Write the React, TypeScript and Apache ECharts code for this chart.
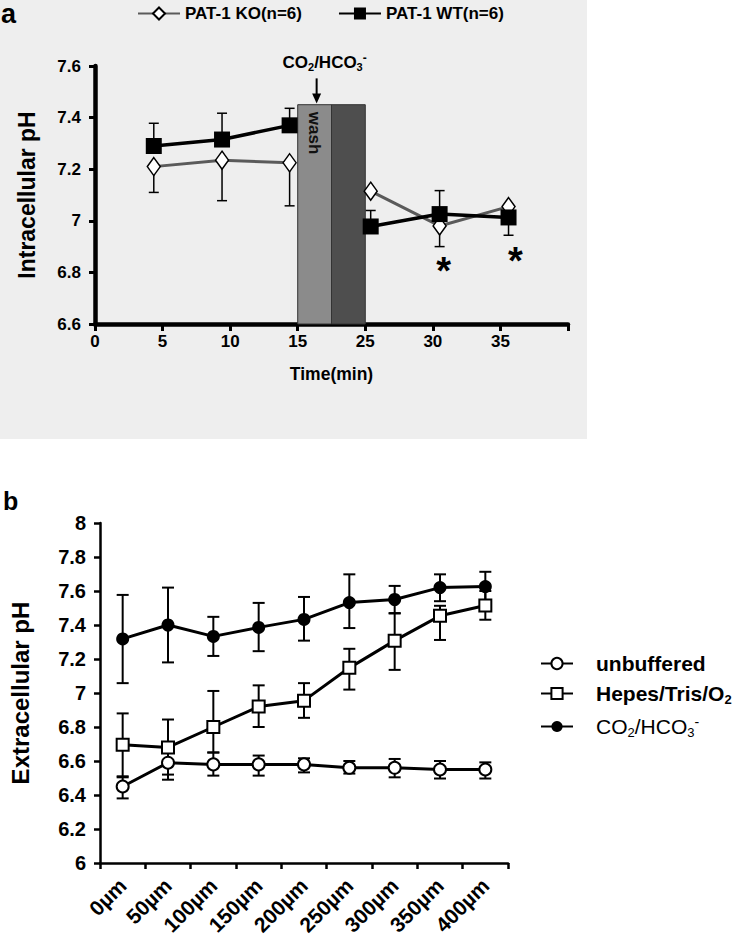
import React, { useEffect, useRef } from 'react';
import * as echarts from 'echarts';

const FONT = "'Liberation Sans', Arial, Helvetica, sans-serif";

// ---------------- Panel a data ----------------
const koName = 'PAT-1 KO(n=6)';
const wtName = 'PAT-1 WT(n=6)';
// time (min) on the displayed, broken time scale
const timeA = [4.35, 9.4, 14.4, 25.4, 30.5, 35.6];
const koPH = [7.21, 7.235, 7.225, 7.115, 6.98, 7.055];
const koErrEnd = [7.11, 7.078, 7.058, null, 6.9, null];
const wtPH = [7.29, 7.315, 7.37, 6.978, 7.026, 7.013];
const wtErrEnd = [7.378, 7.417, 7.436, 7.04, 7.117, 6.944];
const xTickLabelsA = ['0', '5', '10', '15', '25', '30', '35', ''];
const washBands = [[15, 20], [20, 25]]; // minutes
const washTop = 7.45;
const starTimes = [30.8, 36.1];
const starPH = [6.84, 6.88];
const arrowTime = 17.8;
const arrowPH = [7.552, 7.455];
const co2LabelPH = 7.614;

// ---------------- Panel b data ----------------
const distLabels = ['0µm', '50µm', '100µm', '150µm', '200µm', '250µm', '300µm', '350µm', '400µm'];
const unbufName = 'unbuffered';
const hepesName = 'Hepes/Tris/O2';
const co2Name = 'CO2/HCO3-';
const unbuf = [6.45, 6.59, 6.58, 6.58, 6.58, 6.56, 6.56, 6.55, 6.55];
const unbufLow = [6.38, 6.49, 6.514, 6.514, 6.533, 6.526, 6.504, 6.497, 6.497];
const unbufHigh = [6.51, 6.71, 6.65, 6.632, 6.616, 6.6, 6.612, 6.6, 6.592];
const hepes = [6.695, 6.68, 6.8, 6.92, 6.955, 7.148, 7.308, 7.454, 7.515];
const hepesLow = [6.504, 6.52, 6.65, 6.8, 6.854, 7.02, 7.136, 7.312, 7.431];
const hepesHigh = [6.88, 6.844, 7.012, 7.045, 7.058, 7.26, 7.468, 7.513, 7.6];
const co2 = [7.318, 7.4, 7.333, 7.386, 7.433, 7.532, 7.55, 7.62, 7.626];
const co2Low = [7.058, 7.18, 7.218, 7.246, 7.308, 7.382, 7.47, 7.54, 7.54];
const co2High = [7.577, 7.62, 7.448, 7.53, 7.565, 7.698, 7.63, 7.698, 7.713];

// broken time axis: 15-25 min compressed into one 5-unit step
const toAxisA = (t: number) => (t <= 15 ? t : t < 25 ? 15 + (t - 15) / 2 : t - 5);

function buildLine(vals: number[]) {
  const pts: any[] = [];
  timeA.forEach((t, i) => {
    if (i === 3) pts.push([null, null]);
    pts.push([toAxisA(t), vals[i]]);
  });
  return pts;
}

function oneSidedErr(lw: number, capHalf: number) {
  return (params: any, api: any) => {
    const x = api.value(0);
    const p0 = api.coord([x, api.value(1)]);
    const p1 = api.coord([x, api.value(2)]);
    const st = { stroke: '#000', lineWidth: lw };
    return {
      type: 'group',
      children: [
        { type: 'line', shape: { x1: p0[0], y1: p0[1], x2: p1[0], y2: p1[1] }, style: st },
        { type: 'line', shape: { x1: p1[0] - capHalf, y1: p1[1], x2: p1[0] + capHalf, y2: p1[1] }, style: st },
      ],
    };
  };
}

function twoSidedErr(lw: number, capHalf: number) {
  return (params: any, api: any) => {
    const x = api.value(0);
    const lo = api.coord([x, api.value(1)]);
    const hi = api.coord([x, api.value(2)]);
    const st = { stroke: '#000', lineWidth: lw };
    return {
      type: 'group',
      children: [
        { type: 'line', shape: { x1: lo[0], y1: lo[1], x2: hi[0], y2: hi[1] }, style: st },
        { type: 'line', shape: { x1: lo[0] - capHalf, y1: lo[1], x2: lo[0] + capHalf, y2: lo[1] }, style: st },
        { type: 'line', shape: { x1: hi[0] - capHalf, y1: hi[1], x2: hi[0] + capHalf, y2: hi[1] }, style: st },
      ],
    };
  };
}

const richA = {
  a: { fontSize: 17, fontWeight: 'bold', fontFamily: FONT, color: '#000', lineHeight: 20 },
  s: { fontSize: 11, fontWeight: 'bold', fontFamily: FONT, color: '#000', lineHeight: 10, verticalAlign: 'bottom' },
  p: { fontSize: 12, fontWeight: 'bold', fontFamily: FONT, color: '#000', lineHeight: 10, verticalAlign: 'top' },
};

const richB = {
  u: { fontSize: 21, fontWeight: 'bold', fontFamily: FONT, color: '#000', lineHeight: 24 },
  hs: { fontSize: 13, fontWeight: 'bold', fontFamily: FONT, color: '#000', lineHeight: 12, verticalAlign: 'bottom' },
  c: { fontSize: 21, fontWeight: 'normal', fontFamily: FONT, color: '#000', lineHeight: 24 },
  cs: { fontSize: 13, fontWeight: 'normal', fontFamily: FONT, color: '#000', lineHeight: 12, verticalAlign: 'bottom' },
  cp: { fontSize: 14, fontWeight: 'normal', fontFamily: FONT, color: '#000', lineHeight: 12, verticalAlign: 'top' },
};

const fmt1 = (v: number) => String(Number(v.toFixed(1)));

export default function App() {
  const ref = useRef<HTMLDivElement>(null);
  useEffect(() => {
    document.body.style.margin = '0';
    const chart = echarts.init(ref.current!, null, { renderer: 'svg' });
    const washColors = ['#8b8b8b', '#4e4e4e'];

    const option: any = {
      animation: false,
      textStyle: { fontFamily: FONT },
      graphic: [
        { type: 'rect', z: -10, silent: true, shape: { x: 0, y: 0, width: 587, height: 439 }, style: { fill: '#eeeeee' } },
        { type: 'text', left: 1, top: 0, style: { text: 'a', font: `bold 27px ${FONT}`, fill: '#000' } },
        { type: 'text', left: 3, top: 488, style: { text: 'b', font: `bold 25px ${FONT}`, fill: '#000' } },
      ],
      legend: [
        {
          data: [koName, wtName],
          left: 132,
          top: 0,
          itemWidth: 42,
          itemHeight: 15,
          itemGap: 36,
          textStyle: { fontSize: 17, fontWeight: 'bold', color: '#000', fontFamily: FONT },
        },
        {
          data: [unbufName, hepesName, co2Name],
          orient: 'vertical',
          left: 535,
          top: 648,
          itemWidth: 32,
          itemHeight: 14,
          itemGap: 9,
          formatter: (name: string) =>
            name === hepesName
              ? '{u|Hepes/Tris/O}{hs|2}'
              : name === co2Name
              ? '{c|CO}{cs|2}{c|/HCO}{cs|3}{cp|-}'
              : `{u|${name}}`,
          textStyle: { padding: [0, 0, 0, 18], rich: richB },
        },
      ],
      grid: [
        { left: 95, top: 66, width: 473, height: 258 },
        { left: 92, top: 523, width: 416, height: 340 },
      ],
      xAxis: [
        {
          gridIndex: 0,
          type: 'value',
          min: 0,
          max: 35,
          interval: 5,
          axisLine: { show: true, lineStyle: { color: '#000', width: 4.5 } },
          axisTick: { show: true, length: 7, lineStyle: { color: '#000', width: 3 } },
          axisLabel: {
            formatter: (v: number) => xTickLabelsA[Math.round(v / 5)] ?? '',
            fontSize: 17,
            fontWeight: 'bold',
            color: '#000',
            margin: 9,
          },
          splitLine: { show: false },
          name: 'Time(min)',
          nameLocation: 'middle',
          nameGap: 41,
          nameTextStyle: { fontSize: 17.5, fontWeight: 'bold', color: '#000' },
        },
        {
          gridIndex: 1,
          type: 'category',
          data: distLabels,
          boundaryGap: true,
          axisLine: { show: true, lineStyle: { color: '#000', width: 2.5 } },
          axisTick: { show: true, length: 6, interval: 0, lineStyle: { color: '#000', width: 2.5 } },
          axisLabel: { rotate: 45, interval: 0, fontSize: 21, fontWeight: 'bold', color: '#000', margin: 19 },
          splitLine: { show: false },
        },
      ],
      yAxis: [
        {
          gridIndex: 0,
          type: 'value',
          min: 6.6,
          max: 7.6,
          interval: 0.2,
          axisLine: { show: true, lineStyle: { color: '#000', width: 4.5 } },
          axisTick: { show: true, length: 6, lineStyle: { color: '#000', width: 3 } },
          axisLabel: { formatter: fmt1, fontSize: 17, fontWeight: 'bold', color: '#000', margin: 14 },
          splitLine: { show: false },
          name: 'Intracellular pH',
          nameLocation: 'middle',
          nameRotate: 90,
          nameGap: 57,
          nameTextStyle: { fontSize: 23, fontWeight: 'bold', color: '#000' },
        },
        {
          gridIndex: 1,
          type: 'value',
          min: 6,
          max: 8,
          interval: 0.2,
          axisLine: { show: true, lineStyle: { color: '#000', width: 2.5 } },
          axisTick: { show: true, length: 6, lineStyle: { color: '#000', width: 2.5 } },
          axisLabel: { formatter: fmt1, fontSize: 20, fontWeight: 'bold', color: '#000', margin: 14 },
          splitLine: { show: false },
          name: 'Extracellular pH',
          nameLocation: 'middle',
          nameRotate: 90,
          nameGap: 68,
          nameTextStyle: { fontSize: 24, fontWeight: 'bold', color: '#000' },
        },
      ],
      series: [
        // ---- panel a ----
        {
          type: 'custom',
          name: 'wash',
          xAxisIndex: 0,
          yAxisIndex: 0,
          z: 1,
          data: washBands.map((b, i) => [toAxisA(b[0]), toAxisA(b[1]), washTop, i]),
          renderItem: (params: any, api: any) => {
            const i = api.value(3);
            const a = api.coord([api.value(0), api.value(2)]);
            const b = api.coord([api.value(1), 6.6]);
            const children: any[] = [
              {
                type: 'rect',
                shape: { x: a[0], y: a[1], width: b[0] - a[0], height: b[1] - a[1] },
                style: { fill: washColors[i], stroke: '#333', lineWidth: 1 },
              },
            ];
            if (i === 0) {
              const c = api.coord([(api.value(0) + api.value(1)) / 2, 7.34]);
              children.push({
                type: 'text',
                x: c[0],
                y: c[1],
                rotation: -Math.PI / 2,
                style: { text: 'wash', fontSize: 17, fontWeight: 'bold', fontFamily: FONT, fill: '#111', align: 'center', verticalAlign: 'middle' },
              });
            }
            return { type: 'group', children };
          },
        },
        {
          type: 'custom',
          name: 'arrow',
          xAxisIndex: 0,
          yAxisIndex: 0,
          z: 6,
          clip: false,
          data: [[toAxisA(arrowTime), arrowPH[0], arrowPH[1], co2LabelPH]],
          renderItem: (params: any, api: any) => {
            const top = api.coord([api.value(0), api.value(1)]);
            const bot = api.coord([api.value(0), api.value(2)]);
            const lab = api.coord([api.value(0), api.value(3)]);
            return {
              type: 'group',
              children: [
                { type: 'line', shape: { x1: top[0], y1: top[1], x2: bot[0], y2: bot[1] - 8 }, style: { stroke: '#000', lineWidth: 2 } },
                {
                  type: 'polygon',
                  shape: { points: [[bot[0] - 4.5, bot[1] - 10], [bot[0] + 4.5, bot[1] - 10], [bot[0], bot[1]]] },
                  style: { fill: '#000' },
                },
                {
                  type: 'text',
                  x: lab[0] + 8,
                  y: lab[1],
                  style: { text: '{a|CO}{s|2}{a|/HCO}{s|3}{p|-}', rich: richA, align: 'center', verticalAlign: 'middle' },
                },
              ],
            };
          },
        },
        {
          type: 'custom',
          name: 'KO err',
          xAxisIndex: 0,
          yAxisIndex: 0,
          z: 2,
          data: timeA.map((t, i) => [toAxisA(t), koPH[i], koErrEnd[i]]).filter((d) => d[2] != null),
          renderItem: oneSidedErr(1.5, 5),
        },
        {
          type: 'custom',
          name: 'WT err',
          xAxisIndex: 0,
          yAxisIndex: 0,
          z: 2,
          data: timeA.map((t, i) => [toAxisA(t), wtPH[i], wtErrEnd[i]]),
          renderItem: oneSidedErr(1.5, 5),
        },
        {
          type: 'line',
          name: koName,
          xAxisIndex: 0,
          yAxisIndex: 0,
          z: 3,
          data: buildLine(koPH),
          symbol: 'diamond',
          symbolSize: [13, 18],
          itemStyle: { color: '#fff', borderColor: '#000', borderWidth: 1.5 },
          lineStyle: { color: '#5a5a5a', width: 3 },
          connectNulls: false,
        },
        {
          type: 'line',
          name: wtName,
          xAxisIndex: 0,
          yAxisIndex: 0,
          z: 4,
          data: buildLine(wtPH),
          symbol: 'rect',
          symbolSize: 16,
          itemStyle: { color: '#000', borderColor: '#000', borderWidth: 0 },
          lineStyle: { color: '#000', width: 3.5 },
          connectNulls: false,
        },
        {
          type: 'custom',
          name: 'stars',
          xAxisIndex: 0,
          yAxisIndex: 0,
          z: 6,
          data: starTimes.map((t, i) => [toAxisA(t), starPH[i]]),
          renderItem: (params: any, api: any) => {
            const p = api.coord([api.value(0), api.value(1)]);
            return {
              type: 'text',
              x: p[0],
              y: p[1] + 9,
              style: { text: '*', fontSize: 38, fontWeight: 'bold', fontFamily: FONT, fill: '#000', align: 'center', verticalAlign: 'middle' },
            };
          },
        },
        // ---- panel b ----
        {
          type: 'custom',
          name: 'unbuf err',
          xAxisIndex: 1,
          yAxisIndex: 1,
          z: 2,
          data: unbuf.map((v, i) => [i, unbufLow[i], unbufHigh[i]]),
          renderItem: twoSidedErr(2, 6),
        },
        {
          type: 'custom',
          name: 'hepes err',
          xAxisIndex: 1,
          yAxisIndex: 1,
          z: 2,
          data: hepes.map((v, i) => [i, hepesLow[i], hepesHigh[i]]),
          renderItem: twoSidedErr(2, 6),
        },
        {
          type: 'custom',
          name: 'co2 err',
          xAxisIndex: 1,
          yAxisIndex: 1,
          z: 2,
          data: co2.map((v, i) => [i, co2Low[i], co2High[i]]),
          renderItem: twoSidedErr(2, 6),
        },
        {
          type: 'line',
          name: unbufName,
          xAxisIndex: 1,
          yAxisIndex: 1,
          z: 3,
          data: unbuf,
          symbol: 'circle',
          symbolSize: 12,
          itemStyle: { color: '#fff', borderColor: '#000', borderWidth: 2 },
          lineStyle: { color: '#000', width: 3 },
        },
        {
          type: 'line',
          name: hepesName,
          xAxisIndex: 1,
          yAxisIndex: 1,
          z: 3,
          data: hepes,
          symbol: 'rect',
          symbolSize: 12,
          itemStyle: { color: '#fff', borderColor: '#000', borderWidth: 2 },
          lineStyle: { color: '#000', width: 3 },
        },
        {
          type: 'line',
          name: co2Name,
          xAxisIndex: 1,
          yAxisIndex: 1,
          z: 3,
          data: co2,
          symbol: 'circle',
          symbolSize: 13,
          itemStyle: { color: '#000', borderColor: '#000', borderWidth: 0 },
          lineStyle: { color: '#000', width: 3 },
        },
      ],
    };
    chart.setOption(option);
    return () => chart.dispose();
  }, []);
  return <div ref={ref} style={{ position: 'absolute', left: 0, top: 0, width: 742, height: 945 }} />;
}
